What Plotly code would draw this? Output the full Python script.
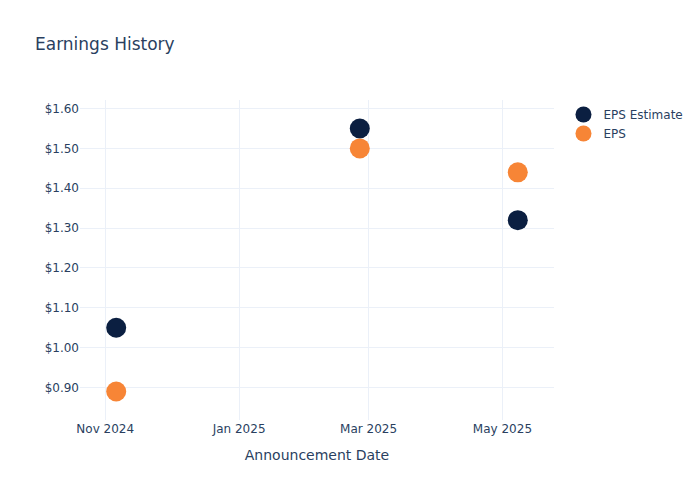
import plotly.graph_objects as go

# Announcement dates and EPS values
dates = ['2024-11-06', '2025-02-25', '2025-05-08']
eps_estimate = [1.05, 1.55, 1.32]
eps_actual = [0.89, 1.50, 1.44]

fig = go.Figure()

fig.add_trace(go.Scatter(
    x=dates,
    y=eps_estimate,
    mode='markers',
    name='EPS Estimate',
    marker=dict(color='#0B1F41', size=20),
))

fig.add_trace(go.Scatter(
    x=dates,
    y=eps_actual,
    mode='markers',
    name='EPS',
    marker=dict(color='#F78536', size=20),
))

fig.update_layout(
    template='plotly_white',
    width=700,
    height=500,
    font=dict(family='DejaVu Sans'),
    title='Earnings History',
    xaxis_title='Announcement Date',
)

fig.update_yaxes(tickformat='$.2f')
fig.update_xaxes(dtick='M2', tickformat='%b %Y')

# drop the page margin so the 700x500 figure fills the window
fig.write_html('out.html', config={'displayModeBar': False},
               post_script="document.body.style.margin='0';")
